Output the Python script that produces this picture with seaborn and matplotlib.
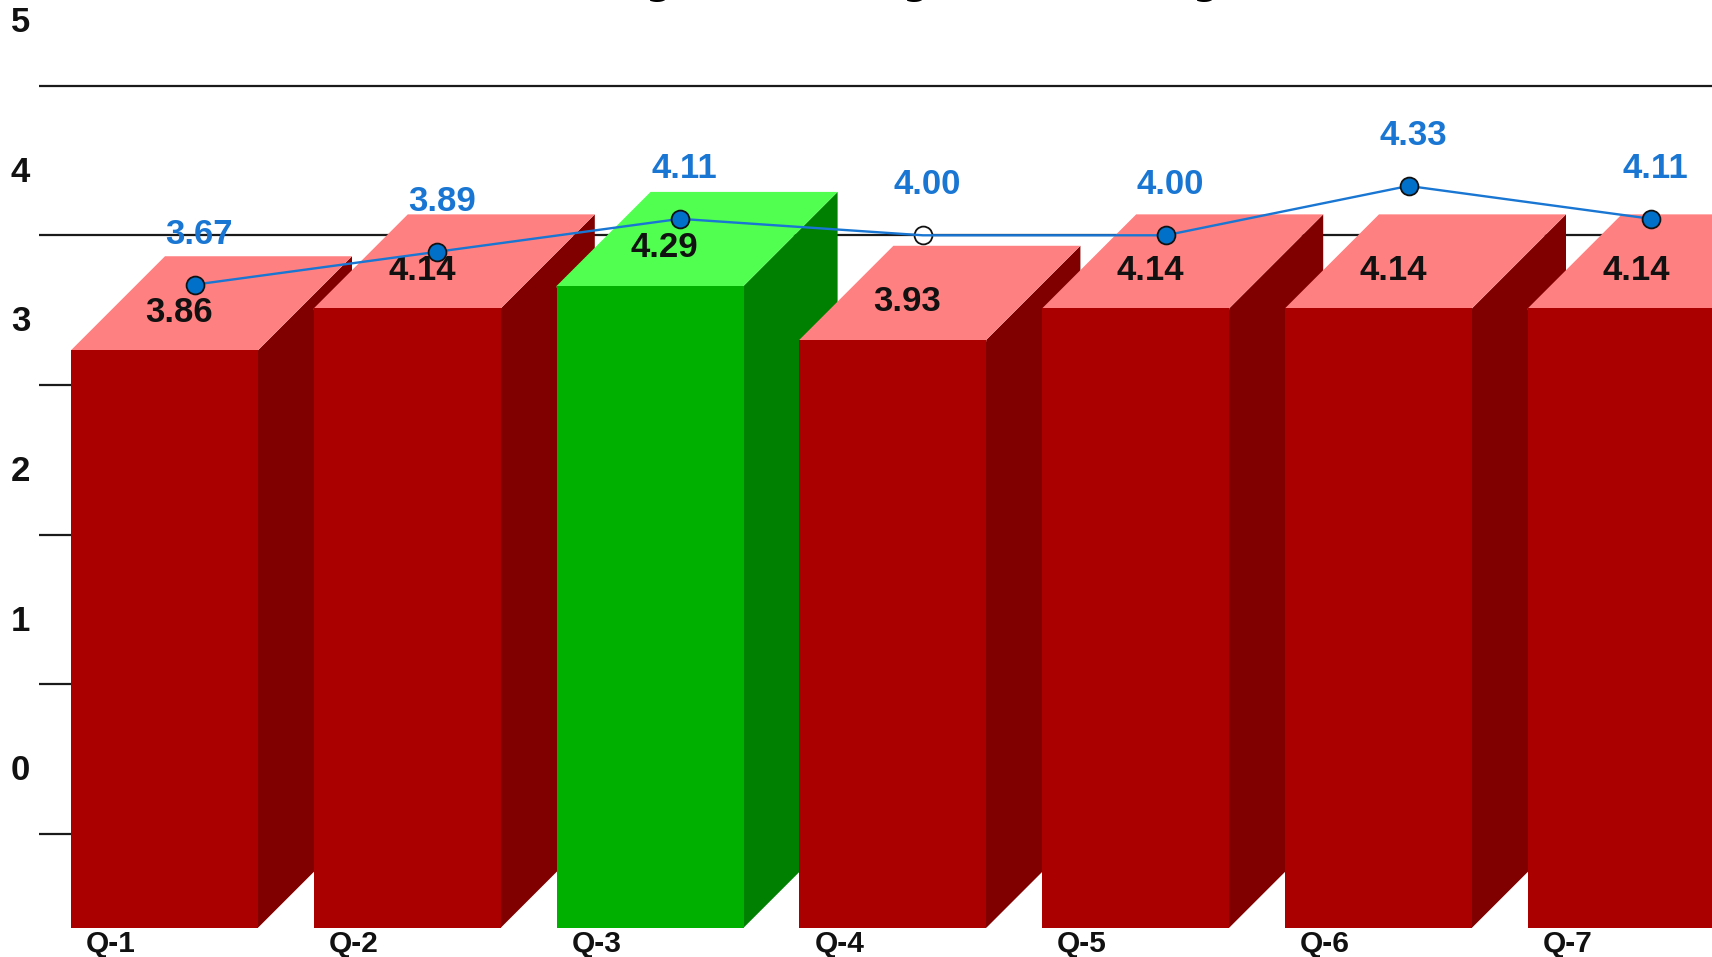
import numpy as np
import matplotlib
matplotlib.use("Agg")
import matplotlib.pyplot as plt
import seaborn as sns
from matplotlib.patches import Polygon

sns.set_theme(style="white")
plt.rcParams["font.family"] = ["Liberation Sans", "DejaVu Sans"]

# Chart data
questions = ["Q-1", "Q-2", "Q-3", "Q-4", "Q-5", "Q-6", "Q-7"]
bar_scores = [3.86, 4.14, 4.29, 3.93, 4.14, 4.14, 4.14]
line_scores = [3.67, 3.89, 4.11, 4.00, 4.00, 4.33, 4.11]
axis_ticks = [0, 1, 2, 3, 4, 5]
highlighted = "Q-3"
hollow_point = "Q-4"

W, H, DPI = 1712, 957, 100
PX_X, PX_Y = 242.8, 149.6      # pixels per category / per score unit
ORIGIN_X, ORIGIN_Y = 164.5, 927.7
DEPTH_X, DEPTH_Y = 94 / PX_X, 94 / PX_Y   # extrusion of the pseudo-3D bars
BAR_W = 187 / PX_X
LINE_DX = 30 / PX_X
SEAM = 0.012                    # overlap between faces so no background shows through

RED = dict(front="#AA0000", side="#800000", top="#FF8080")
GREEN = dict(front="#00B000", side="#008000", top="#50FF50")
BLUE = "#1976D2"

fig = plt.figure(figsize=(W / DPI, H / DPI), dpi=DPI, facecolor="white")
ax = fig.add_axes([0, 0, 1, 1])

# Front faces of the bars
colours = [GREEN if q == highlighted else RED for q in questions]
sns.barplot(x=questions, y=bar_scores, hue=questions, dodge=False,
            palette=[c["front"] for c in colours], width=BAR_W,
            saturation=1, legend=False, linewidth=0, ax=ax)

ax.set_xlim(-ORIGIN_X / PX_X, (W - ORIGIN_X) / PX_X)
ax.set_ylim((ORIGIN_Y - H) / PX_Y, ORIGIN_Y / PX_Y)
ax.axis("off")

# Back-wall gridlines, starting just left of the first bar
grid_x0 = (39 - ORIGIN_X) / PX_X
ax.hlines([t + DEPTH_Y for t in axis_ticks], grid_x0, ax.get_xlim()[1],
          color="#1a1a1a", lw=1.6, zorder=1)

# Side and top faces, painted bar by bar so each one hides its left neighbour
bars = sorted([p for p in ax.patches if p.get_height() > 0], key=lambda p: p.get_x())
for i, (bar, c) in enumerate(zip(bars, colours)):
    x0, x1, h = bar.get_x(), bar.get_x() + bar.get_width(), bar.get_height()
    z = 2 + i
    ax.add_patch(Polygon([(x1 - SEAM, 0), (x1, 0), (x1 + DEPTH_X, DEPTH_Y),
                          (x1 + DEPTH_X, h + DEPTH_Y), (x1, h), (x1 - SEAM, h)],
                         closed=True, fc=c["side"], ec="none", zorder=z))
    ax.add_patch(Polygon([(x0, h - SEAM), (x0, h), (x0 + DEPTH_X, h + DEPTH_Y),
                          (x1 + DEPTH_X, h + DEPTH_Y), (x1, h), (x1, h - SEAM)],
                         closed=True, fc=c["top"], ec="none", zorder=z))
    bar.set_zorder(z + 0.5)
    ax.annotate(f"{bar_scores[i]:.2f}", (i, h), xytext=(14.5 * 0.72, 38 * 0.72),
                textcoords="offset points", ha="center", va="center",
                fontsize=25, fontweight="bold", color="#111111", zorder=20)

# Trend line on the back plane; the hollow point sits beneath the line
line_x = np.arange(len(questions)) + LINE_DX
line_y = np.array(line_scores) + DEPTH_Y
sns.lineplot(x=line_x, y=line_y, color=BLUE, lw=1.7, sort=False, estimator=None,
             ax=ax, zorder=30, legend=False)
for q, x, y in zip(questions, line_x, line_y):
    hollow = q == hollow_point
    ax.scatter([x], [y], s=165, c="white" if hollow else "#0070C8",
               edgecolors="#111111", linewidths=1.3, zorder=29 if hollow else 31)
for x, y, v in zip(line_x, line_y, line_scores):
    ax.annotate(f"{v:.2f}", (x, y), xytext=(4.5 * 0.72, 50.5 * 0.72),
                textcoords="offset points", ha="center", va="center",
                fontsize=25, fontweight="bold", color=BLUE, zorder=32)

# Score labels, set above their gridlines
for t in axis_ticks:
    ax.annotate(str(t), (grid_x0, t + DEPTH_Y), xytext=(-18.5 * 0.72, 63 * 0.72),
                textcoords="offset points", ha="center", va="center",
                fontsize=25, fontweight="bold", color="#111111")

# Category labels under the left part of each bar
for bar, q in zip(bars, questions):
    ax.annotate(q, (bar.get_x(), 0), xytext=(15 * 0.72, -16 * 0.72),
                textcoords="offset points", ha="left", va="center",
                fontsize=21.5, fontweight="bold", color="#111111")

# Heading sits mostly above the top edge of the canvas
for px in [658, 915, 1205]:
    fig.text(px / W, 1 + 5 / H, "g", ha="center", va="baseline",
             family="DejaVu Sans", fontweight="bold", fontsize=26, color="black")

fig.savefig("out.png", dpi=DPI, facecolor="white")
